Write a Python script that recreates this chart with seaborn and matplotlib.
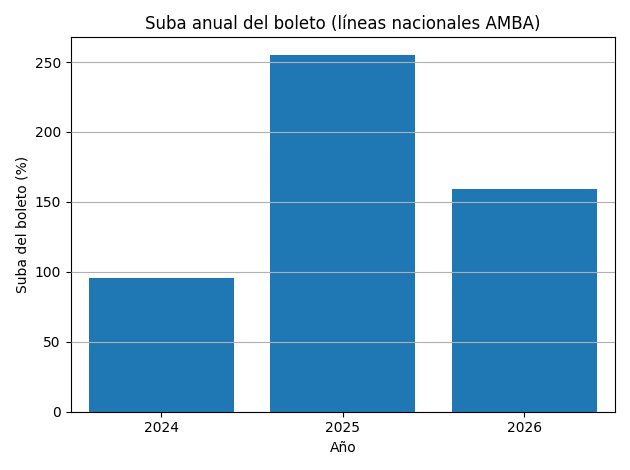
import matplotlib
matplotlib.use("Agg")
import matplotlib.pyplot as plt
import seaborn as sns
import pandas as pd

years = ["2024", "2025", "2026"]
suba = [95.3, 254.9, 159.4]

df = pd.DataFrame({"anio": years, "suba": suba})

fig, ax = plt.subplots(figsize=(6.3, 4.7), dpi=100)
sns.barplot(data=df, x="anio", y="suba", color="#1f77b4", saturation=1, width=0.8, ax=ax)
ax.set_axisbelow(False)
ax.grid(axis="y", color="#b0b0b0", linewidth=0.8)
ax.set_title("Suba anual del boleto (líneas nacionales AMBA)")
ax.set_xlabel("Año")
ax.set_ylabel("Suba del boleto (%)")
fig.tight_layout()
fig.savefig("out.png")
